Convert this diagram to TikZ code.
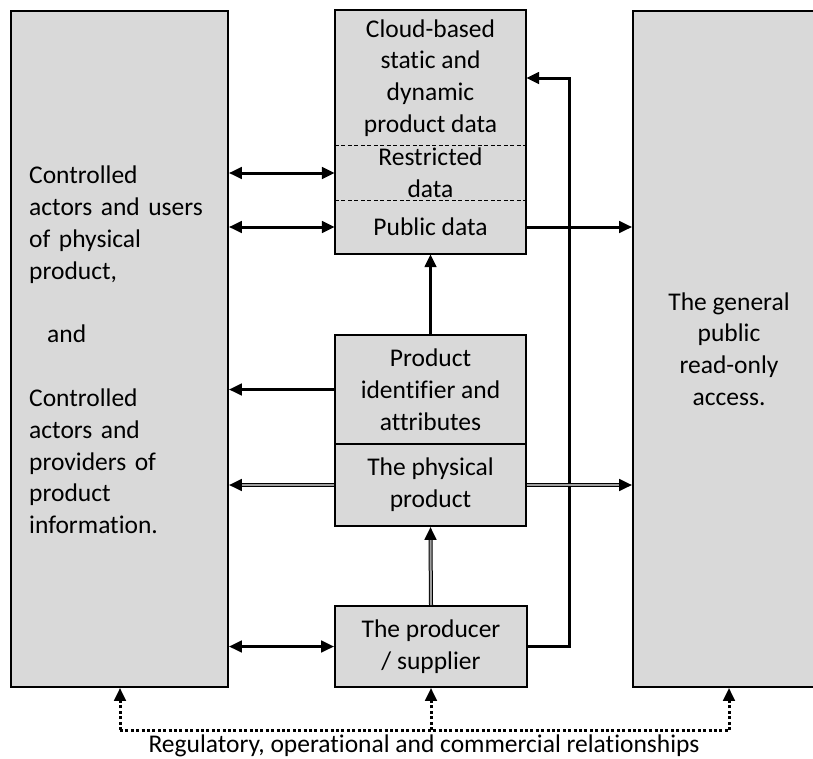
\documentclass[tikz,border=0pt]{standalone}
\usepackage{fontspec}
\setmainfont{Carlito}[Ligatures=NoCommon]
\usetikzlibrary{arrows.meta,calc}
\definecolor{boxgray}{HTML}{D9D9D9}
\tikzset{
  txt/.style={font=\fontsize{25.5}{31.8}\selectfont, align=center, inner sep=0pt},
  box/.style={txt, draw=black, line width=1.8pt, fill=boxgray},
  part/.style={txt, fill=boxgray},
  tip/.style={-{Triangle[length=13pt,width=11.5pt]}},
  conn/.style={line width=3pt, tip},
  both/.style={line width=3pt, {Triangle[length=13pt,width=11.5pt]}-{Triangle[length=13pt,width=11.5pt]}},
  dbl/.style={draw=black, double=gray!75, double distance=2pt, line width=1pt},
  dots/.style={line width=3pt, dash pattern=on 3pt off 2.4pt},
}
\begin{document}
\begin{tikzpicture}[x=1pt,y=1pt]
\useasboundingbox (0,0) rectangle (813,-758);
\clip (0,0) rectangle (813,-758);
% big side boxes
\node[box, minimum width=217pt, minimum height=676pt] (left) at (119.5,-349) {};
\node[txt, align=left, text width=199pt, anchor=west] (lefttxt) at (29,-350) {Controlled\\actors and users\\of physical\\product,\\\mbox{}\\\hspace*{18pt}and\\\mbox{}\\Controlled\\actors and\\providers of\\product\\information.};
\node[box, minimum width=192pt, minimum height=676pt] (right) at (729,-349) {The general\\public\\read-only\\access.};
% cloud data box
\node[part, minimum width=191pt, minimum height=136pt] (cloud) at (430.5,-78) {Cloud-based\\static and\\dynamic\\product data};
\node[part, minimum width=191pt, minimum height=54pt] (restr) at (430.5,-173) {Restricted\\data};
\node[part, minimum width=191pt, minimum height=54pt] (pub) at (430.5,-227) {Public data};
\draw[line width=1.8pt] (cloud.north west) rectangle (pub.south east);
\draw[line width=1.3pt, dash pattern=on 4pt off 2.5pt] (restr.north west) -- (restr.north east);
\draw[line width=1.3pt, dash pattern=on 4pt off 2.5pt] (restr.south west) -- (restr.south east);
% product boxes
\node[box, minimum width=191pt, minimum height=109pt] (ident) at (430.5,-389.5) {Product\\identifier and\\attributes};
\node[box, minimum width=191pt, minimum height=82pt] (phys) at (430.5,-485) {The physical\\product};
\node[box, minimum width=192pt, minimum height=81pt] (prod) at (431,-646.5) {The producer\\/ supplier};
% connectors
\draw[both] (left.east |- restr.west) -- (restr.west);
\draw[both] (left.east |- pub.west) -- (pub.west);
\draw[conn] (pub.east) -- (right.west |- pub.east);
\draw[conn] (ident.north) -- (pub.south);
\draw[conn] (ident.west) -- (left.east |- ident.west);
\draw[both] (left.east |- prod.west) -- (prod.west);
\draw[conn] (prod.east) -- ++(42,0) |- (cloud.east);
% double-line connectors
\draw[dbl] (phys.west) -- ($(left.east |- phys.west)+(11,0)$);
\draw[conn] ($(left.east |- phys.west)+(13.5,0)$) -- (left.east |- phys.west);
\draw[dbl] (phys.east) -- ($(right.west |- phys.east)+(-11,0)$);
\draw[conn] ($(right.west |- phys.east)+(-13.5,0)$) -- (right.west |- phys.east);
\draw[dbl] (prod.north) -- ($(phys.south)+(0,-11)$);
\draw[conn] ($(phys.south)+(0,-13.5)$) -- (phys.south);
% regulatory relationships
\coordinate (dl) at (120,-730);
\coordinate (dm) at (431,-730);
\coordinate (dr) at (729,-730);
\draw[dots] (dl) -- (dr);
\draw[dots, tip] (dl) -- (left.south -| dl);
\draw[dots, tip] (dm) -- (prod.south);
\draw[dots, tip] (dr) -- (right.south);
\node[txt, anchor=base] (reg) at (424,-752) {Regulatory, operational and commercial relationships};
\end{tikzpicture}
\end{document}
